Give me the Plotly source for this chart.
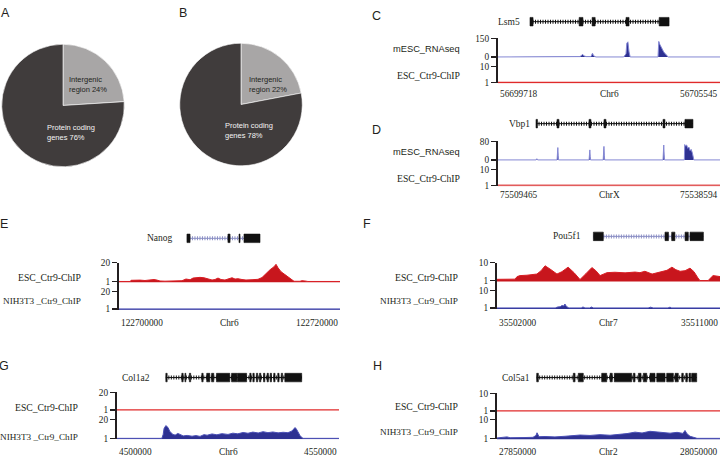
import plotly.graph_objects as go

W, H = 722, 460

# ---------------- data ----------------
PIE_LABELS = ["Intergenic region", "Protein coding genes"]
PIE_VALUES_A = [24, 76]
PIE_VALUES_B = [22, 78]

# Panel C (Lsm5)
C_REGION = [56699718, 56705545]
C_TICKLABELS = ["56699718", "Chr6", "56705545"]
C_GENE = "Lsm5"
C_TRACKS = ["mESC_RNAseq", "ESC_Ctr9-ChIP"]
C_YTICKS = [[0, 150], [1, 10]]
C_EXON_START_KB = [0.84, 2.13, 2.47, 3.36, 4.23]
C_EXON_END_KB = [0.92, 2.23, 2.55, 3.44, 4.49]
C_T1_KB = [0, 0.55, 0.6, 0.65, 2.1, 2.15, 2.19, 2.22, 2.26, 2.32, 2.44, 2.48, 2.51, 2.54, 2.57,
           3.3, 3.36, 3.38, 3.41, 3.44, 3.47, 4.2, 4.22, 4.25, 4.3, 4.35, 4.42, 4.47, 5.827]
C_T1_VAL = [0, 0, 2, 0, 0, 3, 12, 22, 8, 3, 3, 30, 10, 3, 0,
            0, 25, 110, 122, 40, 0, 0, 125, 100, 70, 40, 15, 0, 0]
C_T2_KB = [0, 5.827]
C_T2_VAL = [1, 1]

# Panel D (Vbp1)
D_REGION = [75509465, 75538594]
D_TICKLABELS = ["75509465", "ChrX", "75538594"]
D_GENE = "Vbp1"
D_TRACKS = ["mESC_RNAseq", "ESC_Ctr9-ChIP"]
D_YTICKS = [[0, 80], [1, 10]]
D_EXON_START_KB = [4.99, 7.74, 11.94, 13.91, 21.65, 24.53]
D_EXON_END_KB = [5.18, 8.0, 12.2, 14.17, 21.91, 25.58]
D_T1_KB = [0, 5.0, 5.1, 5.2, 7.75, 7.85, 7.9, 7.95, 11.95, 12.05, 12.1, 12.15, 13.8, 13.9, 13.95, 14.0,
           21.65, 21.75, 21.8, 21.85, 24.45, 24.5, 24.6, 24.75, 24.9, 25.05, 25.2, 25.35, 25.5, 25.6, 25.7, 29.129]
D_T1_VAL = [0, 0, 5, 0, 0, 53, 20, 0, 0, 43, 15, 0, 0, 58, 20, 0,
            0, 64, 25, 0, 0, 66, 60, 64, 50, 55, 40, 45, 30, 20, 0, 0]
D_T2_KB = [0, 29.129]
D_T2_VAL = [1, 1]

# Panel E (Nanog)
E_REGION = [122700000, 122720000]
E_TICKLABELS = ["122700000", "Chr6", "122720000"]
E_GENE = "Nanog"
E_TRACKS = ["ESC_Ctr9-ChIP", "NIH3T3 _Ctr9_ChIP"]
E_YTICKS = [[1, 20], [1, 20]]
E_EXON_START_KB = [6.15, 9.86, 10.86, 11.31]
E_EXON_END_KB = [6.43, 10.05, 10.95, 12.76]
E_T1_KB = [0, 1.0, 1.09, 1.45, 1.9, 2.35, 2.8, 3.17, 3.44, 3.71, 4.16, 5.07, 5.7, 6.06, 6.43,
           6.7, 6.97, 7.33, 7.69, 8.05, 8.42, 8.69, 8.96, 9.23, 9.59, 9.86, 10.23, 10.5, 10.77, 11.13,
           11.49, 12.04, 12.58, 12.94, 13.3, 13.67, 14.03, 14.21, 14.39, 14.66, 15.02, 15.39, 15.66, 15.84,
           16.38, 16.56, 16.83, 17.1, 20.0]
E_T1_VAL = [1, 1, 2.2, 2.6, 2.4, 2.0, 2.6, 3.0, 2.4, 1.5, 1.3, 1.2, 1.8, 3.5, 2.8,
            4.5, 5.0, 5.2, 4.8, 3.5, 2.5, 3.0, 4.5, 3.0, 2.5, 3.5, 4.8, 3.5, 3.8, 3.0,
            2.5, 2.8, 3.2, 5.0, 9.0, 13.0, 16.0, 18.5, 15.0, 11.0, 8.0, 5.0, 2.5, 1.2,
            1.2, 1.8, 1.5, 1.0, 1.0]
E_T2_KB = [0, 7.0, 7.1, 7.2, 10.5, 10.6, 10.7, 20]
E_T2_VAL = [1, 1, 1.4, 1, 1, 1.6, 1, 1]

# Panel F (Pou5f1)
F_REGION = [35502000, 35511000]
F_TICKLABELS = ["35502000", "Chr7", "35511000"]
F_GENE = "Pou5f1"
F_TRACKS = ["ESC_Ctr9-ChIP", "NIH3T3 _Ctr9_ChIP"]
F_YTICKS = [[1, 10], [1, 10]]
F_EXON_START_KB = [3.89, 6.78, 7.05, 7.59, 7.79]
F_EXON_END_KB = [4.29, 6.92, 7.18, 7.72, 8.33]
F_T1_KB = [0, 0.32, 0.73, 0.81, 0.93, 1.21, 1.45, 1.61, 1.78, 1.94, 2.18, 2.42, 2.62, 2.87, 3.11,
           3.35, 3.59, 3.83, 3.99, 4.16, 4.44, 4.76, 5.17, 5.57, 5.77, 5.97, 6.26, 6.58, 6.86, 7.06,
           7.22, 7.39, 7.59, 7.79, 7.95, 8.11, 8.19, 8.52, 8.64, 8.72, 8.84, 9.0]
F_T1_VAL = [1.6, 1.5, 1.7, 3.0, 3.5, 3.7, 3.9, 4.3, 6.0, 8.5, 6.5, 4.3, 5.5, 7.8, 5.0,
            1.5, 4.5, 7.6, 6.0, 3.5, 5.0, 5.2, 4.9, 5.3, 5.0, 5.7, 4.3, 5.5, 6.2, 7.8,
            6.5, 5.7, 6.0, 7.3, 5.5, 2.3, 1.0, 1.0, 2.8, 3.5, 3.3, 3.0]
F_T2_KB = [0, 1.35, 1.41, 1.47, 2.35, 2.45, 2.55, 2.62, 2.7, 2.74, 2.8, 2.9, 3.4, 3.47, 3.55,
           3.75, 3.8, 3.9, 6.1, 6.2, 6.3, 6.9, 6.98, 7.05, 9.0]
F_T2_VAL = [1, 1, 1.3, 1, 1, 1.5, 1.6, 2.2, 2.0, 3.0, 1.8, 1, 1, 1.5, 1,
            1, 1.5, 1, 1, 1.4, 1, 1, 1.4, 1, 1]

# Panel G (Col1a2)
G_REGION = [4500000, 4550000]
G_TICKLABELS = ["4500000", "Chr6", "4550000"]
G_GENE = "Col1a2"
G_TRACKS = ["ESC_Ctr9-ChIP", "NIH3T3 _Ctr9_ChIP"]
G_YTICKS = [[1, 20], [1, 20]]
G_EXON_START_KB = [11.0, 14.6, 15.3, 16.3, 19.1, 20.2, 21.3, 22.4, 25.8, 27.1, 29.9, 30.6, 31.4,
                   32.1, 33.0, 33.8, 34.5, 35.3, 36.2, 37.0, 37.8]
G_EXON_END_KB = [11.3, 14.9, 15.5, 16.6, 19.4, 20.9, 21.8, 25.4, 27.0, 29.2, 30.2, 30.9, 31.7,
                 32.4, 33.3, 34.1, 34.8, 35.6, 36.5, 37.3, 41.6]
G_T1_KB = [0, 50.0]
G_T1_VAL = [1, 1]
G_T2_KB = [0, 10.1, 10.4, 10.6, 11.0, 11.5, 11.9, 12.6, 13.1, 13.7, 14.2, 14.9, 15.8, 16.9, 17.8,
           18.7, 19.6, 20.3, 21.4, 22.5, 23.6, 25.0, 26.1, 27.2, 28.4, 29.5, 30.6, 31.8, 32.9, 34.0,
           35.1, 36.3, 37.4, 38.5, 39.4, 40.1, 40.4, 40.8, 41.2, 41.7, 41.9, 50.0]
G_T2_VAL = [1, 1, 5, 11, 14, 12, 8, 5, 4.3, 6, 5, 3.5, 4, 3.2, 3.8,
            3.0, 4.8, 4.2, 5.5, 4.6, 5.8, 5.0, 6.3, 5.6, 7.0, 6.2, 7.4, 6.5, 7.8, 6.8,
            7.5, 6.6, 7.2, 6.8, 8.5, 12, 10.5, 7, 4, 1.5, 1, 1]

# Panel H (Col5a1)
H_REGION = [27850000, 28050000]
H_TICKLABELS = ["27850000", "Chr2", "28050000"]
H_GENE = "Col5a1"
H_TRACKS = ["ESC_Ctr9-ChIP", "NIH3T3 _Ctr9_ChIP"]
H_YTICKS = [[1, 10], [1, 10]]
H_EXON_START_KB = [35.6, 68.4, 72.9, 93.9, 101.4, 105.2, 122.3, 126.8, 131.2, 137.2, 143.3, 152.2,
                   159.7, 165.7, 169.3, 172.2, 174.6]
H_EXON_END_KB = [37.1, 70.0, 77.4, 98.4, 103.4, 120.8, 123.8, 129.2, 134.3, 141.7, 150.7, 158.2,
                 162.6, 167.1, 170.7, 173.7, 179.1]
H_T1_KB = [0, 200]
H_T1_VAL = [1, 1]
H_T2_KB = [0, 7.2, 9.0, 11.7, 20.6, 25.1, 32.3, 35.0, 35.9, 37.7, 43.1, 52.0, 61.0, 68.2, 74.5,
           83.4, 92.4, 101.4, 110.3, 116.6, 123.8, 130.1, 137.2, 143.5, 148.9, 155.2, 161.5, 166.8,
           168.6, 170.4, 173.1, 175.8, 179.4, 200]
H_T2_VAL = [1.2, 1.4, 1.7, 1.3, 1.6, 1.4, 1.5, 2.4, 3.7, 1.8, 1.9, 1.7, 2.0, 2.2, 2.6,
            2.4, 2.8, 2.5, 2.9, 3.3, 4.0, 3.6, 4.4, 4.0, 3.8, 3.5, 3.9, 3.4,
            4.8, 3.2, 2.0, 1.5, 1.0, 1.0]

# ---------------- styles ----------------
INK = "#231f20"
PIE_LIGHT, PIE_DARK = "#a8a6a6", "#403c3c"
RED_FILL, RED_LINE, RED_FLAT = "#c8161d", "#d81e24", "#e02a2a"
BLUE_FILL, BLUE_LINE, RNA_LINE = "#2e3192", "#4a4fb5", "#8588d4"
SERIF, SANS = "Liberation Serif", "Liberation Sans"

STYLE = {
    "C": ["rna", "redflat"], "D": ["rna", "redflat_light"],
    "E": ["redfill", "bluefill"], "F": ["redfill", "bluefill"],
    "G": ["redflat", "bluefill"], "H": ["redflat", "bluefill"],
}
INTRON_COLOR = {"C": "#111111", "D": "#111111", "E": "#8a8ec4", "F": "#8a8ec4",
                "G": "#111111", "H": "#111111"}

POS = {
    "C": dict(x0=498, x1=720, gene=17, t1=(34, 53), t2=(63, 79), ticky=91, lab_r=462,
              lab_y=(45, 72), letter=(376, 11), gshift=-8),
    "D": dict(x0=498, x1=720, gene=121, t1=(139, 158), t2=(168, 184), ticky=194, lab_r=462,
              lab_y=(150, 177), letter=(376, 127), gshift=-4),
    "E": dict(x0=119, x1=340, gene=238, t1=(263, 282), t2=(292, 310), ticky=324, lab_r=83,
              lab_y=(278, 302), letter=(4, 223), gshift=-12),
    "F": dict(x0=497, x1=720, gene=236, t1=(263, 281), t2=(291, 309), ticky=324, lab_r=460,
              lab_y=(278, 302), letter=(367, 223), gshift=-10),
    "G": dict(x0=117, x1=339, gene=380, t1=(395, 413), t2=(423, 442), ticky=456, lab_r=80,
              lab_y=(411, 441), letter=(4, 368), gshift=-14),
    "H": dict(x0=497, x1=720, gene=380, t1=(396, 414), t2=(423, 442), ticky=456, lab_r=460,
              lab_y=(410, 436), letter=(377, 368), gshift=-5),
}

PANELS = {
    "C": dict(region=C_REGION, ticks=C_TICKLABELS, gene=C_GENE, tracks=C_TRACKS, yt=C_YTICKS,
              es=C_EXON_START_KB, ee=C_EXON_END_KB, d=[(C_T1_KB, C_T1_VAL), (C_T2_KB, C_T2_VAL)]),
    "D": dict(region=D_REGION, ticks=D_TICKLABELS, gene=D_GENE, tracks=D_TRACKS, yt=D_YTICKS,
              es=D_EXON_START_KB, ee=D_EXON_END_KB, d=[(D_T1_KB, D_T1_VAL), (D_T2_KB, D_T2_VAL)]),
    "E": dict(region=E_REGION, ticks=E_TICKLABELS, gene=E_GENE, tracks=E_TRACKS, yt=E_YTICKS,
              es=E_EXON_START_KB, ee=E_EXON_END_KB, d=[(E_T1_KB, E_T1_VAL), (E_T2_KB, E_T2_VAL)]),
    "F": dict(region=F_REGION, ticks=F_TICKLABELS, gene=F_GENE, tracks=F_TRACKS, yt=F_YTICKS,
              es=F_EXON_START_KB, ee=F_EXON_END_KB, d=[(F_T1_KB, F_T1_VAL), (F_T2_KB, F_T2_VAL)]),
    "G": dict(region=G_REGION, ticks=G_TICKLABELS, gene=G_GENE, tracks=G_TRACKS, yt=G_YTICKS,
              es=G_EXON_START_KB, ee=G_EXON_END_KB, d=[(G_T1_KB, G_T1_VAL), (G_T2_KB, G_T2_VAL)]),
    "H": dict(region=H_REGION, ticks=H_TICKLABELS, gene=H_GENE, tracks=H_TRACKS, yt=H_YTICKS,
              es=H_EXON_START_KB, ee=H_EXON_END_KB, d=[(H_T1_KB, H_T1_VAL), (H_T2_KB, H_T2_VAL)]),
}


def px2x(p):
    return p / W


def px2y(p):
    return 1 - p / H


def ax_name(kind, n):
    return kind + "axis" + ("" if n == 1 else str(n))


def ax_ref(kind, n):
    return kind + ("" if n == 1 else str(n))


fig = go.Figure()
layout = {}
shapes = []
ann = []

# ---------------- pies ----------------
PIE_BOX = {"A": (1, 40, 125, 165), "B": (179, 39, 303, 164)}
PIE_TEXT = {"A": [(67, 81.5), (45, 130)], "B": [(247, 81), (223, 128.5)]}
for key, vals in (("A", PIE_VALUES_A), ("B", PIE_VALUES_B)):
    x0, y0, x1, y1 = PIE_BOX[key]
    fig.add_trace(go.Pie(values=vals, labels=PIE_LABELS, sort=False, direction="clockwise",
                         rotation=0, textinfo="none", hoverinfo="skip", showlegend=False,
                         domain=dict(x=[px2x(x0), px2x(x1)], y=[px2y(y1), px2y(y0)]),
                         marker=dict(colors=[PIE_LIGHT, PIE_DARK],
                                     line=dict(color="white", width=0.6))))
    for j, (lab, v) in enumerate(zip(PIE_LABELS, vals)):
        a, b = lab.rsplit(" ", 1)
        tx, ty = PIE_TEXT[key][j]
        ann.append(dict(text=f"{a}<br>{b} {v}%", xref="paper", yref="paper",
                        x=px2x(tx), y=px2y(ty), xanchor="left", yanchor="middle", align="left",
                        showarrow=False,
                        font=dict(family=SANS, size=7.5, color=INK if j == 0 else "#f4f4f4")))

LETTERS = {"A": (5, 8), "B": (183, 8)}
for k, (lx, ly) in LETTERS.items():
    ann.append(dict(text=k, xref="paper", yref="paper", x=px2x(lx), y=px2y(ly),
                    xanchor="center", yanchor="middle", showarrow=False,
                    font=dict(family=SANS, size=12.5, color=INK)))

# ---------------- genome browser panels ----------------
yax_common = dict(showline=True, linecolor=INK, linewidth=2, ticks="outside", ticklen=5,
                  tickwidth=1.2, tickcolor=INK, showgrid=False, zeroline=False,
                  tickfont=dict(family=SERIF, size=9.3, color=INK), fixedrange=True)

for i, key in enumerate(["C", "D", "E", "F", "G", "H"]):
    P, L = PANELS[key], POS[key]
    xn = i + 1
    g, t1, t2 = 3 * i + 1, 3 * i + 2, 3 * i + 3
    xr = ax_ref("x", xn)
    start, end = P["region"]
    layout[ax_name("x", xn)] = dict(domain=[px2x(L["x0"]), px2x(L["x1"])], range=[start, end],
                                   visible=False, anchor=ax_ref("y", t2), fixedrange=True)
    layout[ax_name("y", g)] = dict(domain=[px2y(L["gene"] + 7), px2y(L["gene"] - 7)],
                                  range=[-1, 1], visible=False, anchor=xr, fixedrange=True)
    pad = 1
    (pt1, pb1), (pt2, pb2) = L["t1"], L["t2"]
    lo1, hi1 = P["yt"][0]
    lo2, hi2 = P["yt"][1]
    u1 = (hi1 - lo1) / (pb1 - pt1)
    u2 = (hi2 - lo2) / (pb2 - pt2)
    layout[ax_name("y", t1)] = dict(domain=[px2y(pb1 + pad), px2y(pt1)],
                                   range=[lo1 - pad * u1, hi1], tickvals=[lo1, hi1],
                                   ticktext=[str(lo1), str(hi1)], anchor=xr, **yax_common)
    layout[ax_name("y", t2)] = dict(domain=[px2y(pb2 + pad), px2y(pb1 + pad)],
                                   range=[lo2 - pad * u2, hi2 + (pt2 - (pb1 + pad)) * u2],
                                   tickvals=[lo2, hi2], ticktext=[str(lo2), str(hi2)],
                                   anchor=xr, **yax_common)

    for j, (kb, vals) in enumerate(P["d"]):
        yn = ax_ref("y", t1 if j == 0 else t2)
        xs = [start + k * 1000 for k in kb]
        kind = STYLE[key][j]
        if kind == "rna":
            tr = go.Scatter(x=xs, y=vals, mode="lines", fill="tozeroy", fillcolor=BLUE_FILL,
                            line=dict(color=RNA_LINE, width=1))
        elif kind == "redfill":
            tr = go.Scatter(x=xs, y=vals, mode="lines", fill="tozeroy", fillcolor=RED_FILL,
                            line=dict(color=RED_LINE, width=1))
        elif kind == "bluefill":
            tr = go.Scatter(x=xs, y=vals, mode="lines", fill="tozeroy", fillcolor=BLUE_FILL,
                            line=dict(color=BLUE_LINE, width=1))
        elif kind == "redflat_light":
            tr = go.Scatter(x=xs, y=vals, mode="lines", line=dict(color="#e25c5c", width=1.6))
        else:
            tr = go.Scatter(x=xs, y=vals, mode="lines", line=dict(color=RED_FLAT, width=1.4))
        tr.update(xaxis=xr, yaxis=yn, hoverinfo="skip", showlegend=False)
        fig.add_trace(tr)

    gy = ax_ref("y", g)
    gs = start + min(P["es"]) * 1000
    ge = start + max(P["ee"]) * 1000
    ic = INTRON_COLOR[key]
    fig.add_trace(go.Scatter(x=[gs, ge], y=[0, 0], mode="lines", line=dict(color=ic, width=1),
                             xaxis=xr, yaxis=gy, hoverinfo="skip", showlegend=False))
    fig.add_trace(go.Scatter(x=[gs, ge], y=[0, 0], mode="lines",
                             line=dict(color=ic, width=4, dash="1px,1.5px"),
                             xaxis=xr, yaxis=gy, hoverinfo="skip", showlegend=False))
    for s, e in zip(P["es"], P["ee"]):
        shapes.append(dict(type="rect", xref=xr, yref=gy, x0=start + s * 1000, x1=start + e * 1000,
                           y0=-0.62, y1=0.62, fillcolor="#111111",
                           line=dict(color="#111111", width=0.6)))
    ann.append(dict(text=P["gene"], xref=xr, yref=gy, x=gs, y=0, xanchor="right",
                    yanchor="middle", xshift=L["gshift"], showarrow=False,
                    font=dict(family=SERIF, size=9.5, color=INK)))

    for t, xa, pos in zip(P["ticks"], ["left", "center", "right"], [0, 0.5, 1]):
        ann.append(dict(text=t, xref=xr + " domain", yref="paper", x=pos, y=px2y(L["ticky"]),
                        xanchor=xa, yanchor="middle", showarrow=False,
                        font=dict(family=SERIF, size=9.3, color=INK)))

    for j, name in enumerate(P["tracks"]):
        if "RNAseq" in name:
            fam, size = SANS, 9.3
        elif name.startswith("NIH3T3"):
            fam, size = SERIF, 9.2
        else:
            fam, size = SERIF, 9.7
        ann.append(dict(text=name, xref="paper", yref="paper", x=px2x(L["lab_r"]),
                        y=px2y(L["lab_y"][j]), xanchor="right", yanchor="middle",
                        showarrow=False, font=dict(family=fam, size=size, color=INK)))

    lx, ly = L["letter"]
    ann.append(dict(text=key, xref="paper", yref="paper", x=px2x(lx), y=px2y(ly),
                    xanchor="center", yanchor="middle", showarrow=False,
                    font=dict(family=SANS, size=12.5, color=INK)))

fig.update_layout(layout)
fig.update_layout(width=W, height=H, margin=dict(l=0, r=0, t=0, b=0),
                  paper_bgcolor="white", plot_bgcolor="rgba(0,0,0,0)",
                  showlegend=False, shapes=shapes, annotations=ann)
fig.write_html("out.html", config={"displayModeBar": False, "staticPlot": True},
               post_script="document.body.style.margin='0';document.body.style.overflow='hidden';")
